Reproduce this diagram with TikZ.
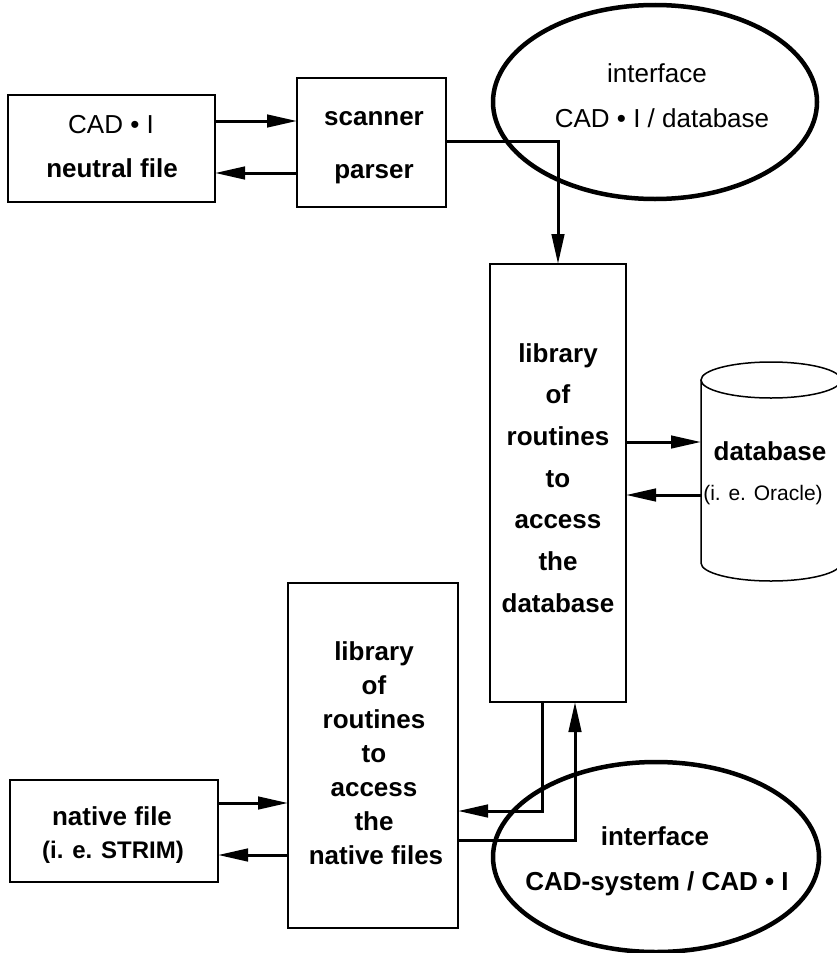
\documentclass[tikz,border=0pt]{standalone}
\usepackage{fontspec}
\setmainfont{Liberation Sans}
\usetikzlibrary{arrows.meta,shapes.geometric,calc}
\begin{document}
\begin{tikzpicture}[x=1pt,y=1pt,
  box/.style={draw, line width=1.5pt, rectangle, inner sep=0pt, outer sep=0pt},
  oval/.style={draw, ellipse, line width=4.5pt, inner sep=0pt, outer sep=0pt},
  lbl/.style={anchor=base, inner sep=0pt, font=\fontsize{26}{30}\selectfont\bfseries},
  lblr/.style={anchor=base, inner sep=0pt, font=\fontsize{26}{30}\selectfont},
  lbls/.style={anchor=base, inner sep=0pt, font=\fontsize{21}{25}\selectfont},
  arr/.style={line width=3pt, -{Triangle[length=30pt,width=12.5pt]}},
  cyl/.style={line width=1.5pt}
]
\useasboundingbox (0,0) rectangle (836,-953);

% boxes
\node[box, minimum width=207pt, minimum height=107pt] (neutral) at (111.5,-148.5) {};
\node[box, minimum width=149pt, minimum height=129pt] (scanner) at (371.5,-142.5) {};
\node[box, minimum width=136pt, minimum height=438pt] (dblib) at (558,-483) {};
\node[box, minimum width=170pt, minimum height=345pt] (nlib) at (373,-755.5) {};
\node[box, minimum width=208pt, minimum height=102pt] (nfile) at (114,-831) {};
\node[oval, minimum width=324pt, minimum height=194pt] (topif) at (655,-102) {};
\node[oval, minimum width=326pt, minimum height=190pt] (botif) at (656,-857) {};

% cylinder (database)
\node[inner sep=0pt, outer sep=0pt, minimum width=140pt, minimum height=183pt] (db) at (771,-471.5) {};
\draw[cyl] (db.north) ellipse [x radius=70pt, y radius=18pt];
\draw[cyl] (db.north west) -- (db.south west)
  arc[start angle=180, end angle=360, x radius=70pt, y radius=18pt] -- (db.north east);

% texts
\node[lblr] (t1) at (111,-133) {CAD • I};
\node[lbl]  (t2) at (112,-177) {neutral file};
\node[lbl]  (t3) at (374,-125) {scanner};
\node[lbl]  (t4) at (374,-178) {parser};
\node[lblr] (t5) at (657,-82) {interface};
\node[lblr] (t6) at (662,-127) {CAD • I / database};
\node[lbl] (d1) at (558,-362) {library};
\node[lbl] (d2) at (558,-403.7) {of};
\node[lbl] (d3) at (558,-445.4) {routines};
\node[lbl] (d4) at (558,-487.1) {to};
\node[lbl] (d5) at (558,-528.8) {access};
\node[lbl] (d6) at (558,-570.5) {the};
\node[lbl] (d7) at (558,-612.2) {database};
\node[lbl]  (c1) at (770,-460) {database};
\node[lbls] (c2) at (763,-500) {(i. e. Oracle)};
\node[lbl] (n1) at (374,-660) {library};
\node[lbl] (n2) at (374,-694) {of};
\node[lbl] (n3) at (374,-728) {routines};
\node[lbl] (n4) at (374,-762) {to};
\node[lbl] (n5) at (374,-796) {access};
\node[lbl] (n6) at (374,-830) {the};
\node[lbl] (n7) at (376,-864) {native files};
\node[lbl] (f1) at (112,-825) {native file};
\node[lbl, font=\fontsize{24}{28}\selectfont\bfseries] (f2) at (113,-858) {(i. e. STRIM)};
\node[lbl] (b1) at (655,-845) {interface};
\node[lbl] (b2) at (657,-890) {CAD-system / CAD • I};

% connectors
\draw[arr] (neutral.east |- 0,-121) -- (scanner.west |- 0,-121);
\draw[arr] (scanner.west |- 0,-173) -- (neutral.east |- 0,-173);
\draw[arr] (scanner.east |- 0,-141) -| (dblib.north);
\draw[arr] (dblib.east |- 0,-442) -- (db.west |- 0,-442);
\draw[arr] (db.west |- 0,-495) -- (dblib.east |- 0,-495);
\draw[arr] (nfile.east |- 0,-803) -- (nlib.west |- 0,-803);
\draw[arr] (nlib.west |- 0,-855) -- (nfile.east |- 0,-855);
\draw[arr] ([xshift=-16pt]dblib.south) |- (nlib.east |- 0,-811);
\draw[arr] (nlib.east |- 0,-840) -| ([xshift=17pt]dblib.south);
\end{tikzpicture}
\end{document}
